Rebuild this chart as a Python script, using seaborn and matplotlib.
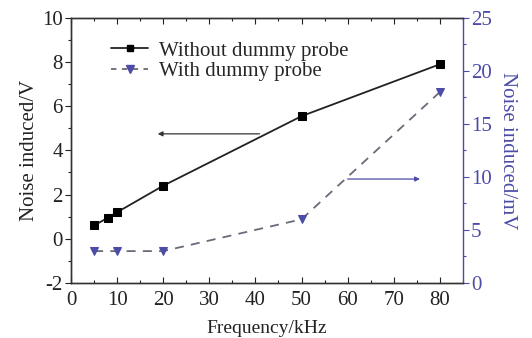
import matplotlib
matplotlib.use("Agg")
import matplotlib.pyplot as plt
import seaborn as sns
import pandas as pd
from matplotlib.ticker import MultipleLocator
from matplotlib.lines import Line2D

freq_without = [5, 8, 10, 20, 50, 80]
noise_without_V = [0.6, 0.95, 1.2, 2.4, 5.55, 7.9]
freq_with = [5, 10, 20, 50, 80]
noise_with_mV = [3.0, 3.0, 3.0, 6.0, 18.0]

sns.set_theme(style="white")
plt.rcParams['font.family'] = ['Liberation Serif', 'DejaVu Serif']
plt.rcParams['axes.unicode_minus'] = False

blue = "#4b4ba8"
fig = plt.figure(figsize=(5.32, 3.38), dpi=100)
ax = fig.add_axes([0.1335, 0.163, 0.7365, 0.784])
ax2 = ax.twinx()

df1 = pd.DataFrame({"f": freq_without, "v": noise_without_V})
df2 = pd.DataFrame({"f": freq_with, "v": noise_with_mV})

sns.lineplot(data=df1, x="f", y="v", ax=ax, color="#222222", lw=1.3,
             marker="s", markersize=5.5, markeredgecolor="black",
             markerfacecolor="black", legend=False)
sns.lineplot(data=df2, x="f", y="v", ax=ax2, color="#6a6a78", lw=1.3,
             linestyle=(0, (5, 4)), marker="v", markersize=6,
             markeredgecolor=blue, markerfacecolor=blue, legend=False)

ax.set_xlim(0, 85)
ax.set_ylim(-2, 10)
ax2.set_ylim(0, 25)
ax.set_xlabel("Frequency/kHz", fontsize=14, color="#222222", labelpad=7)
ax.set_ylabel("Noise induced/V", fontsize=15, color="#222222", labelpad=2)
ax2.set_ylabel("Noise induced/mV", fontsize=15, color=blue, rotation=270,
               labelpad=18)

ax.xaxis.set_major_locator(MultipleLocator(10))
ax.xaxis.set_minor_locator(MultipleLocator(5))
ax.yaxis.set_major_locator(MultipleLocator(2))
ax.yaxis.set_minor_locator(MultipleLocator(1))
ax2.yaxis.set_major_locator(MultipleLocator(5))
ax2.yaxis.set_minor_locator(MultipleLocator(2.5))

ax.tick_params(axis="x", which="both", direction="in", top=True, bottom=True,
               labelsize=15, colors="#222222", pad=6)
ax.tick_params(axis="x", which="major", length=4, width=0.8)
ax.tick_params(axis="x", which="minor", length=2.5, width=0.8)
ax.tick_params(axis="y", which="both", direction="out", left=True,
               labelsize=15, colors="#222222", pad=2)
ax.tick_params(axis="y", which="major", length=4, width=0.8)
ax.tick_params(axis="y", which="minor", length=2.5, width=0.8)
ax2.tick_params(axis="y", which="both", direction="out", right=True,
                labelsize=15, colors=blue, pad=2)
ax2.tick_params(axis="y", which="major", length=4, width=0.8)
ax2.tick_params(axis="y", which="minor", length=2.5, width=0.8)

for a in (ax, ax2):
    for s in a.spines.values():
        s.set_color("#333333")
        s.set_linewidth(1.0)
ax2.spines["right"].set_color(blue)
ax.spines["right"].set_visible(False)

ax.grid(False)
ax2.grid(False)

# arrows
ax.annotate("", xy=(18.2, 4.75), xytext=(41.5, 4.75),
            arrowprops=dict(arrowstyle="-|>", color="#333333", lw=0.9,
                            mutation_scale=7))
ax2.annotate("", xy=(76.3, 9.8), xytext=(59.4, 9.8),
             arrowprops=dict(arrowstyle="-|>", color=blue, lw=0.9,
                             mutation_scale=7))

handles = [
    Line2D([], [], color="#222222", lw=1.3, marker="s", markersize=5,
           markerfacecolor="black", markeredgecolor="black"),
    Line2D([], [], color="#6a6a78", lw=1.3, linestyle=(0, (3, 3)),
           marker="v", markersize=6, markerfacecolor=blue, markeredgecolor=blue),
]
ax.legend(handles, ["Without dummy probe", "With dummy probe"],
          loc="upper left", bbox_to_anchor=(0.07, 0.96), frameon=False,
          fontsize=15, handlelength=1.8, handletextpad=0.5,
          labelspacing=0.05, borderaxespad=0.2)

fig.savefig("out.png", dpi=100)
